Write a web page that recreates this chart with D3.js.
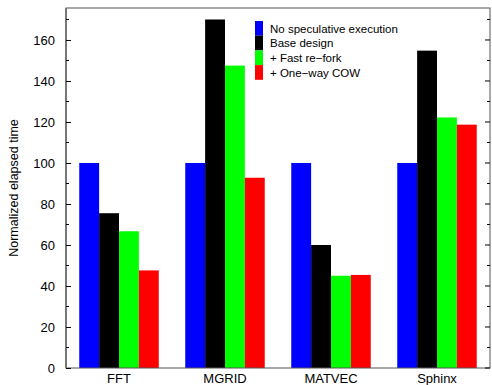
<!DOCTYPE html>
<html lang="en">
<head>
  <meta charset="UTF-8">
  <title>Normalized elapsed time</title>
  <script src="https://d3js.org/d3.v7.min.js"></script>
  <style>
    body { margin: 0; background: #fff; }
    text { font-family: "Liberation Sans", Arial, sans-serif; fill: #000; }
  </style>
</head>
<body>
  <div id="chart"></div>
  <script>
    // data
    const benchmarks = ["FFT", "MGRID", "MATVEC", "Sphinx"];
    const seriesNames = ["No speculative execution", "Base design", "+ Fast re\u2212fork", "+ One\u2212way COW"];
    const seriesColors = ["#0000ff", "#000000", "#00ff00", "#ff0000"];
    const noSpec = [100, 100, 100, 100];
    const baseDesign = [75.5, 170, 60, 154.8];
    const fastRefork = [66.7, 147.5, 45, 122.2];
    const oneWayCow = [47.6, 92.8, 45.4, 118.7];
    const yTicks = [0, 20, 40, 60, 80, 100, 120, 140, 160];

    const series = [noSpec, baseDesign, fastRefork, oneWayCow];

    const width = 492, height = 385;
    const plotLeft = 66, plotRight = 490, plotTop = 8, plotBottom = 368;

    const svg = d3.select("#chart").append("svg")
      .attr("width", width)
      .attr("height", height);

    const y = d3.scaleLinear().domain([0, 175.6]).range([plotBottom, plotTop]);
    const x0 = d3.scaleBand().domain(benchmarks).range([plotLeft, plotRight])
      .paddingInner(0.25).paddingOuter(0.125);
    const x1 = d3.scaleBand().domain(d3.range(series.length)).range([0, x0.bandwidth()]);

    // bars
    const groups = svg.selectAll(".group")
      .data(benchmarks)
      .enter().append("g")
      .attr("class", "group")
      .attr("transform", d => `translate(${x0(d)},0)`);

    groups.selectAll("rect")
      .data((b, i) => series.map((s, k) => ({ k: k, v: s[i] })))
      .enter().append("rect")
      .attr("x", d => x1(d.k))
      .attr("width", x1.bandwidth())
      .attr("y", d => y(d.v))
      .attr("height", d => y(0) - y(d.v))
      .attr("fill", d => seriesColors[d.k]);

    // frame
    svg.append("rect")
      .attr("x", plotLeft).attr("y", plotTop)
      .attr("width", plotRight - plotLeft).attr("height", plotBottom - plotTop)
      .attr("fill", "none").attr("stroke", "#555").attr("stroke-width", 1);
    svg.append("line")
      .attr("x1", plotLeft).attr("x2", plotLeft).attr("y1", plotTop).attr("y2", plotBottom)
      .attr("stroke", "#777").attr("stroke-width", 2);

    // left axis, ticks pointing inward
    const minor = d3.range(0, 176, 10);
    const yAxisL = svg.append("g").attr("transform", `translate(${plotLeft},0)`);
    yAxisL.call(d3.axisLeft(y).tickValues(yTicks).tickSize(-5).tickPadding(11));
    yAxisL.select(".domain").remove();
    yAxisL.selectAll("text").style("font-size", "13px").attr("font-family", null);
    yAxisL.selectAll("line").attr("stroke", "#000");
    svg.append("g").selectAll("line")
      .data(minor.filter(v => v % 20 !== 0))
      .enter().append("line")
      .attr("x1", plotLeft).attr("x2", plotLeft + 3)
      .attr("y1", d => y(d)).attr("y2", d => y(d))
      .attr("stroke", "#000");

    // right mirrored ticks
    svg.append("g").selectAll("line")
      .data(minor)
      .enter().append("line")
      .attr("x1", plotRight).attr("x2", d => d % 20 === 0 ? plotRight - 5 : plotRight - 3)
      .attr("y1", d => y(d)).attr("y2", d => y(d))
      .attr("stroke", "#000");

    // category labels
    svg.append("g").selectAll("text")
      .data(benchmarks)
      .enter().append("text")
      .attr("x", d => x0(d) + x0.bandwidth() / 2)
      .attr("y", 383)
      .attr("text-anchor", "middle")
      .style("font-size", "13px")
      .text(d => d);

    // y title
    svg.append("text")
      .attr("transform", `translate(18,${(plotTop + plotBottom) / 2}) rotate(-90)`)
      .attr("text-anchor", "middle")
      .style("font-size", "12.5px")
      .text("Normalized elapsed time");

    // legend
    const legend = svg.append("g").attr("transform", "translate(255,21)");
    const item = legend.selectAll("g")
      .data(seriesNames)
      .enter().append("g")
      .attr("transform", (d, i) => `translate(0,${i * 14.7})`);
    item.append("rect")
      .attr("width", 8).attr("height", 14.7)
      .attr("fill", (d, i) => seriesColors[i]);
    item.append("text")
      .attr("x", 15).attr("y", 11.5)
      .style("font-size", "11.5px")
      .text(d => d);
  </script>
</body>
</html>
